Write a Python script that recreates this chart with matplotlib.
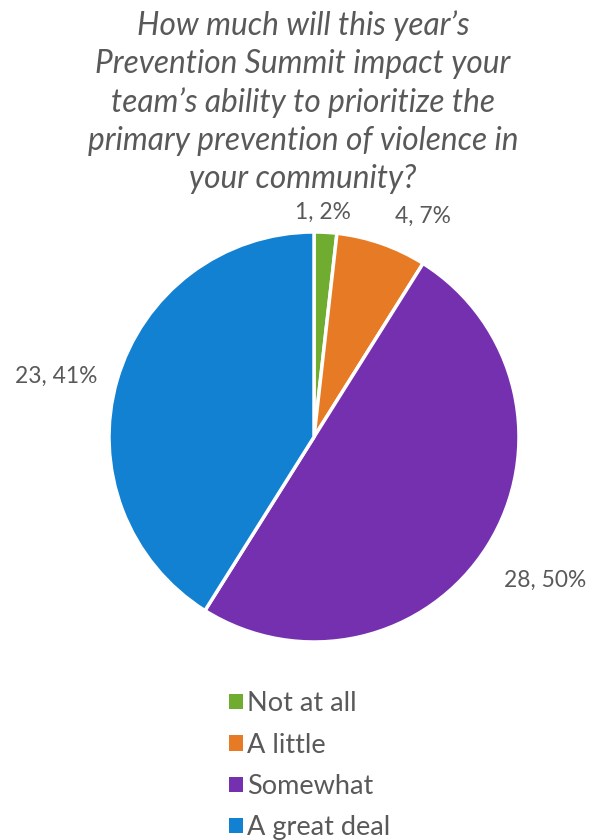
import matplotlib
matplotlib.use("Agg")
import matplotlib.pyplot as plt
from matplotlib.patches import Patch

categories = ["Not at all", "A little", "Somewhat", "A great deal"]
counts = [1, 4, 28, 23]
percents = [2, 7, 50, 41]
colors = ["#6FAC2F", "#E77B25", "#7530B0", "#1281D2"]
title = ("How much will this year\u2019s\nPrevention Summit impact your\n"
         "team\u2019s ability to prioritize the\nprimary prevention of violence in\n"
         "your community?")

W, H = 599, 840
fig = plt.figure(figsize=(W / 100, H / 100), dpi=100)
fig.patch.set_facecolor("white")
plt.rcParams['font.family'] = ['Lato', 'DejaVu Sans']

cx, cy, r = 314, 437, 205
ax = fig.add_axes([0, 0, 1, 1])
ax.pie(counts, colors=colors, startangle=90, counterclock=False,
       wedgeprops=dict(edgecolor='white', linewidth=2.5), radius=1.0)
ax.set_aspect('auto')
ax.set_xlim(-cx / r, (W - cx) / r)
ax.set_ylim(-(H - cy) / r, cy / r)
ax.axis('off')

label_pos = [(323, 212), (423, 216), (545, 580), (56, 376)]
for (px, py), c, p in zip(label_pos, counts, percents):
    fig.text(px / W, 1 - py / H, f"{c}, {p}%", ha='center', va='center',
             fontsize=16.4, color='#595959')

fig.text(303 / W, 1 - 102 / H, title, ha='center', va='center', fontsize=22.8,
         style='italic', color='#595959', linespacing=1.33)

handles = [Patch(facecolor=col, edgecolor='none') for col in colors]
leg = fig.legend(handles, categories, loc='upper left',
                 bbox_to_anchor=(205 / W, 1 - 667 / H), frameon=False,
                 fontsize=19.5, labelcolor='#595959', handlelength=0.5,
                 handleheight=0.5, handletextpad=0.15, labelspacing=0.6)

fig.savefig("out.png", dpi=100)
